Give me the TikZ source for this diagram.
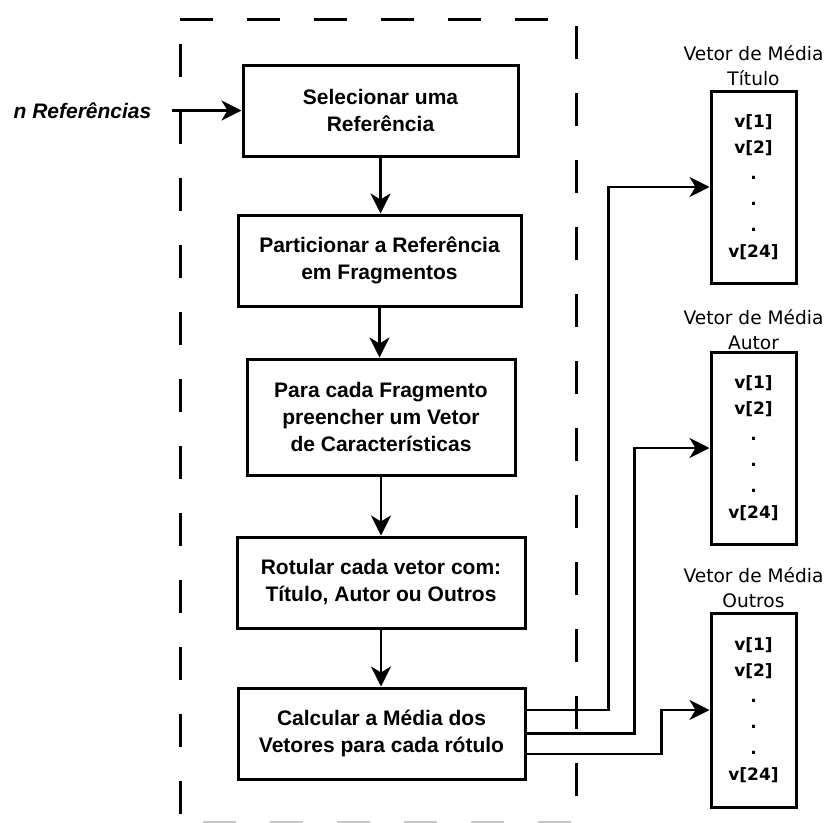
\documentclass[tikz,border=0pt]{standalone}
\usepackage{fontspec}
\setmainfont{Liberation Sans}
\newfontfamily\vecfont{DejaVu Sans}
\usetikzlibrary{arrows.meta}
\begin{document}
\begin{tikzpicture}[x=1pt,y=-1pt,
  stepbox/.style={draw,line width=3pt,align=center,inner sep=0pt,
    font=\bfseries\fontsize{21}{27}\selectfont},
  vecbox/.style={draw,line width=3pt,align=center,inner sep=0pt,
    minimum width=85pt,font=\vecfont\bfseries\fontsize{17}{26}\selectfont},
  vectitle/.style={align=center,inner sep=0pt,
    font=\vecfont\fontsize{18.6}{25}\selectfont},
  arr/.style={line width=2.6pt,-{Stealth[length=20pt,width=20pt,inset=6pt]}},
  frame/.style={line width=3pt,dash pattern=on 33pt off 34pt},
]
\useasboundingbox (0,0) rectangle (829,822);

% dashed processing frame
\draw[frame] (180,19) -- (548,19);
\draw[frame] (180,44) -- (180,814);
\draw[frame] (576,26) -- (576,796);
\draw[frame,black!22,line width=2pt] (203,821.5) -- (571,821.5);

% processing steps
\node[stepbox,minimum width=275pt,minimum height=91pt] (sel) at (380.5,110.5)
  {Selecionar uma\\Referência};
\node[stepbox,minimum width=283pt,minimum height=91pt] (part) at (379.5,260.5)
  {Particionar a Referência\\em Fragmentos};
\node[stepbox,minimum width=268pt,minimum height=116pt] (frag) at (381,417)
  {Para cada Fragmento\\preencher um Vetor\\de Características};
\node[stepbox,minimum width=288pt,minimum height=91pt] (rot) at (381,582.5)
  {Rotular cada vetor com:\\Título, Autor ou Outros};
\node[stepbox,minimum width=287pt,minimum height=91pt] (calc) at (381.5,733.5)
  {Calcular a Média dos\\Vetores para cada rótulo};

% input
\node[inner sep=0pt,font=\bfseries\itshape\fontsize{21}{27}\selectfont] (inp) at (82.5,110.5)
  {n Referências};
\draw[arr,shorten <=20pt] (inp.east) -- (sel.west);

% flow between steps
\draw[arr] (sel.south) -- (sel.south |- part.north);
\draw[arr] (part.south) -- (part.south |- frag.north);
\draw[arr] (frag.south) -- (frag.south |- rot.north);
\draw[arr] (rot.south) -- (rot.south |- calc.north);

% mean vectors
\node[vectitle] (ttit) at (753.5,65.5) {Vetor de Média\\Título};
\node[vecbox,minimum height=192pt] (vtit) at (753.5,187)
  {v[1]\\v[2]\\.\\.\\.\\v[24]};
\node[vectitle] (taut) at (753.5,329.5) {Vetor de Média\\Autor};
\node[vecbox,minimum height=192pt] (vaut) at (753.5,448)
  {v[1]\\v[2]\\.\\.\\.\\v[24]};
\node[vectitle] (tout) at (753.5,587.5) {Vetor de Média\\Outros};
\node[vecbox,minimum height=194pt] (vout) at (753.5,710)
  {v[1]\\v[2]\\.\\.\\.\\v[24]};

% outputs of the averaging step
\draw[arr] ([yshift=23.5pt]calc.east) -- ++(82,0) |- (vtit.west);
\draw[arr] (calc.east) -- ++(108,0) |- (vaut.west);
\draw[arr] ([yshift=-20.5pt]calc.east) -- ++(135,0) |- (vout.west);
\end{tikzpicture}
\end{document}
